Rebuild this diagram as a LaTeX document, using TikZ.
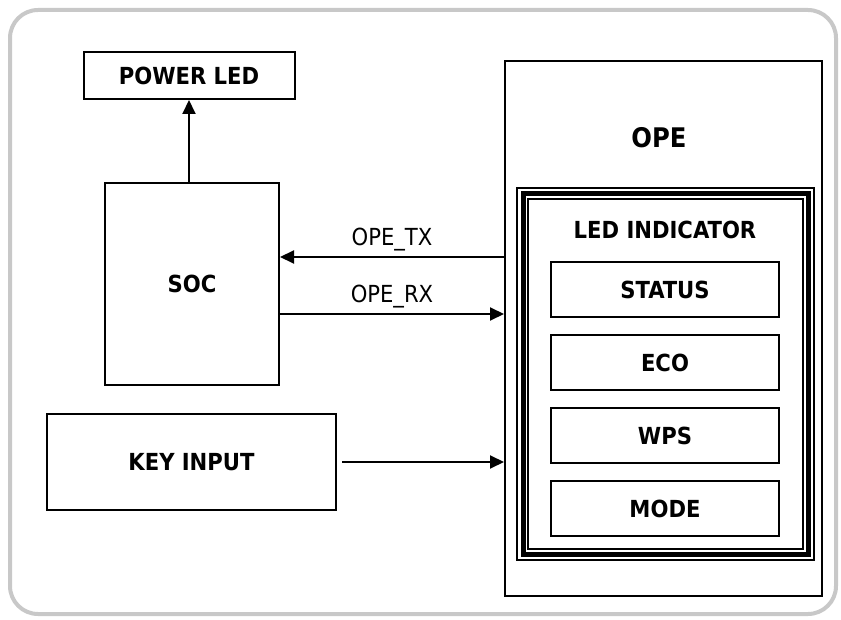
\documentclass[tikz,border=0pt]{standalone}
\usepackage{fontspec}
\setmainfont{DejaVu Sans Condensed}
\usetikzlibrary{arrows.meta, positioning}
\definecolor{frameGray}{HTML}{C8C8C8}

\begin{document}
\begin{tikzpicture}[x=1pt, y=-1pt, node distance=16pt,
    every node/.style={font=\fontsize{23.5}{28}\selectfont},
    blk/.style={draw, line width=2pt, inner sep=0pt, font=\fontsize{23.5}{28}\selectfont\bfseries},
    sig/.style={line width=2pt, -{Triangle[length=14pt, width=13pt]}}]
    \useasboundingbox (0,0) rectangle (841,620);
    \draw[frameGray, line width=4pt, rounded corners=28pt] (10,10) rectangle (836,614);
    \node[blk, minimum width=211pt, minimum height=47pt] (pled) at (189,75.5) {POWER LED};
    \node[blk, minimum width=174pt, minimum height=202pt] (soc) at (192,284) {SOC};
    \node[blk, minimum width=289pt, minimum height=96pt] (key) at (191.5,462) {KEY INPUT};
    % OPE block with LED indicator
    \node[blk, minimum width=317pt, minimum height=535pt] (ope) at (663.5,328.5) {};
    \node[font=\fontsize{27}{32}\selectfont\bfseries] (opelbl) at (659,138) {OPE};
    \node[draw, line width=5pt, outer sep=0pt, minimum width=285pt, minimum height=360pt] (led) at (665.5,374) {};
    \draw[line width=1.5pt] ([shift={(-6,-6)}]led.north west) rectangle ([shift={(6,6)}]led.south east);
    \draw[line width=1.5pt] ([shift={(5,5)}]led.north west) rectangle ([shift={(-5,-5)}]led.south east);
    \node[font=\fontsize{23.5}{28}\selectfont\bfseries] (ledlbl) at (665,230) {LED INDICATOR};
    \node[blk, minimum width=228pt, minimum height=55pt] (status) at (665,289.5) {STATUS};
    \node[blk, minimum width=228pt, minimum height=55pt, below=of status] (eco) {ECO};
    \node[blk, minimum width=228pt, minimum height=55pt, below=of eco] (wps) {WPS};
    \node[blk, minimum width=228pt, minimum height=55pt, below=of wps] (mode) {MODE};
    % signals
    \draw[sig] (soc.north -| pled.south) -- (pled.south);
    \draw[sig] ([yshift=27pt]soc.east -| ope.west) -- node[midway, above=2pt] (tx) {OPE\_TX} ([yshift=27pt]soc.east);
    \draw[sig] ([yshift=-30pt]soc.east) -- node[midway, above=2pt] (rx) {OPE\_RX} ([yshift=-30pt]soc.east -| ope.west);
    \draw[sig] ([xshift=5pt]key.east) -- (key.east -| ope.west);
\end{tikzpicture}
\end{document}
